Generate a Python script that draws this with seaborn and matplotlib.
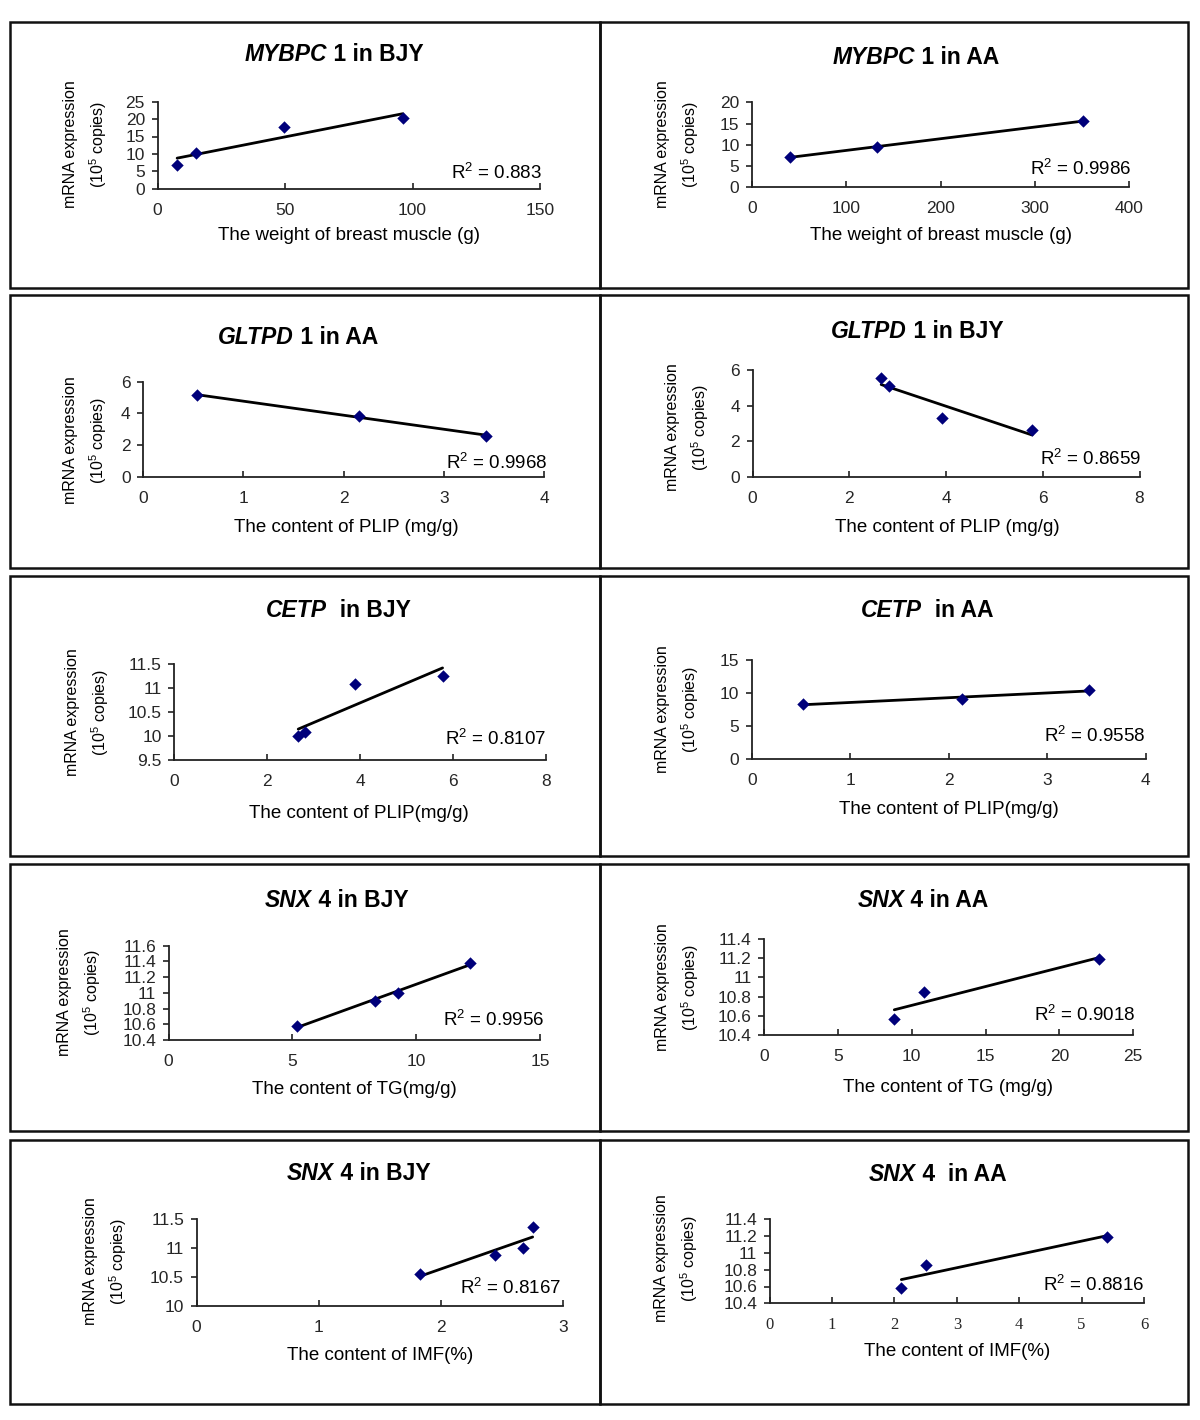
import numpy as np
import pandas as pd
import matplotlib
matplotlib.use("Agg")
import matplotlib.pyplot as plt
from matplotlib.patches import Rectangle
from matplotlib.ticker import FuncFormatter
import seaborn as sns

# ---------------- data ----------------
mybpc1_bjy_x = [7.7, 15.0, 49.7, 96.2]
mybpc1_bjy_y = [6.9, 10.3, 17.6, 20.2]
mybpc1_aa_x = [40.3, 133.0, 351.0]
mybpc1_aa_y = [7.1, 9.5, 15.6]
gltpd1_aa_x = [0.535, 2.15, 3.42]
gltpd1_aa_y = [5.14, 3.85, 2.57]
gltpd1_bjy_x = [2.66, 2.83, 3.91, 5.78]
gltpd1_bjy_y = [5.53, 5.12, 3.32, 2.63]
cetp_bjy_x = [2.67, 2.81, 3.89, 5.78]
cetp_bjy_y = [10.0, 10.08, 11.08, 11.26]
cetp_aa_x = [0.52, 2.14, 3.43]
cetp_aa_y = [8.31, 9.12, 10.44]
snx4_bjy_tg_x = [5.18, 8.32, 9.27, 12.16]
snx4_bjy_tg_y = [10.58, 10.90, 11.00, 11.38]
snx4_aa_tg_x = [8.82, 10.84, 22.67]
snx4_aa_tg_y = [10.57, 10.85, 11.19]
snx4_bjy_imf_x = [1.83, 2.44, 2.67, 2.75]
snx4_bjy_imf_y = [10.55, 10.88, 10.99, 11.37]
snx4_aa_imf_x = [2.11, 2.50, 5.40]
snx4_aa_imf_y = [10.58, 10.86, 11.19]

title_gene = ["MYBPC", "MYBPC", "GLTPD", "GLTPD", "CETP", "CETP", "SNX", "SNX", "SNX", "SNX"]
title_rest = [" 1 in BJY", " 1 in AA", " 1 in AA", " 1 in BJY", "  in BJY", "  in AA",
              " 4 in BJY", " 4 in AA", " 4 in BJY", " 4  in AA"]
x_labels = ["The weight of breast muscle (g)", "The weight of breast muscle (g)",
            "The content of PLIP (mg/g)", "The content of PLIP (mg/g)",
            "The content of PLIP(mg/g)", "The content of PLIP(mg/g)",
            "The content of TG(mg/g)", "The content of TG (mg/g)",
            "The content of IMF(%)", "The content of IMF(%)"]
r2_labels = ["0.883", "0.9986", "0.9968", "0.8659", "0.8107", "0.9558",
             "0.9956", "0.9018", "0.8167", "0.8816"]
x_limits = [(0, 150), (0, 400), (0, 4), (0, 8), (0, 8), (0, 4), (0, 15), (0, 25), (0, 3), (0, 6)]
x_steps = [50, 100, 1, 2, 2, 1, 5, 5, 1, 1]
y_limits = [(0, 25), (0, 20), (0, 6), (0, 6), (9.5, 11.5), (0, 15),
            (10.4, 11.6), (10.4, 11.4), (10, 11.5), (10.4, 11.4)]
y_steps = [5, 5, 2, 2, 0.5, 5, 0.2, 0.2, 0.5, 0.2]

xs_all = [mybpc1_bjy_x, mybpc1_aa_x, gltpd1_aa_x, gltpd1_bjy_x, cetp_bjy_x, cetp_aa_x,
          snx4_bjy_tg_x, snx4_aa_tg_x, snx4_bjy_imf_x, snx4_aa_imf_x]
ys_all = [mybpc1_bjy_y, mybpc1_aa_y, gltpd1_aa_y, gltpd1_bjy_y, cetp_bjy_y, cetp_aa_y,
          snx4_bjy_tg_y, snx4_aa_tg_y, snx4_bjy_imf_y, snx4_aa_imf_y]

# ---------------- layout (pixels) ----------------
W, H = 1200, 1420
# axes: x at xlim-min, x at xlim-max, y at ylim-min, y at ylim-max
axes_px = [(157.5, 540, 188.7, 101.7), (752, 1129, 187.3, 102.3),
           (143, 544, 476.7, 381.7), (752.5, 1139.5, 476.7, 370),
           (174.3, 545.6, 760, 664.3), (751.7, 1145.6, 758.7, 660),
           (168.6, 540.2, 1040, 945.7), (764, 1133.3, 1035, 939),
           (196.6, 563.2, 1305.7, 1219), (769.7, 1144, 1303.3, 1219.3)]
title_pos = [(334, 54), (916, 57), (298, 337), (917, 331), (338, 610), (927, 610),
             (337, 900), (923, 900), (359, 1173), (938, 1174)]
xlabel_pos = [(349, 236), (941, 235), (346, 527), (947, 528), (359, 813), (949, 810),
              (354, 1089), (948, 1087), (380, 1355), (957, 1352)]
ylabel_pos = [(86, 144), (678, 144), (86, 440), (688, 427), (88, 712), (678, 709),
              (80, 992), (678, 987), (106, 1261), (677, 1258)]
r2_pos = [(542, 173), (1131, 169), (548, 463), (1141, 459), (546, 739), (1146, 736),
          (544, 1020), (1136, 1015), (561, 1288), (1144, 1285)]
rows_px = [(22, 288), (295, 568), (576, 856), (864, 1131), (1140, 1404)]
cols_px = [(10, 600), (600, 1188)]

sns.set_theme(style="white")
plt.rcParams["font.family"] = ["Liberation Sans", "DejaVu Sans"]
plt.rcParams["mathtext.fontset"] = "custom"
plt.rcParams["mathtext.rm"] = "Liberation Sans"
plt.rcParams["mathtext.it"] = "Liberation Sans:italic"
plt.rcParams["mathtext.bf"] = "Liberation Sans:bold"

fig = plt.figure(figsize=(W / 100, H / 100), dpi=100)
fig.patch.set_facecolor("white")

def fx(x):
    return x / W

def fy(y):
    return 1 - y / H

# panel boxes
for (yt, yb) in rows_px:
    for (xl, xr) in cols_px:
        fig.add_artist(Rectangle((fx(xl), fy(yb)), (xr - xl) / W, (yb - yt) / H,
                                 transform=fig.transFigure, fill=False,
                                 edgecolor="#111111", linewidth=1.8, zorder=0))

fmt = FuncFormatter(lambda v, _: f"{v:g}")
titles = []
for i in range(10):
    x0, x1, yb, yt = axes_px[i]
    ax = fig.add_axes([fx(x0), fy(yb), (x1 - x0) / W, (yb - yt) / H])
    ax.set_facecolor("none")
    df = pd.DataFrame({"x": xs_all[i], "y": ys_all[i]})
    sns.regplot(data=df, x="x", y="y", ax=ax, ci=None, truncate=True, scatter=False,
                line_kws=dict(color="black", linewidth=2.0))
    sns.scatterplot(data=df, x="x", y="y", ax=ax, marker="D", color="#00007a",
                    s=40, linewidth=0, zorder=4, clip_on=False)
    ax.set_xlim(*x_limits[i])
    ax.set_ylim(*y_limits[i])
    ax.set_xticks(np.arange(x_limits[i][0], x_limits[i][1] + x_steps[i] / 2, x_steps[i]))
    ax.set_yticks(np.round(np.arange(y_limits[i][0], y_limits[i][1] + y_steps[i] / 2, y_steps[i]), 3))
    ax.xaxis.set_major_formatter(fmt)
    ax.yaxis.set_major_formatter(fmt)
    ax.set_xlabel("")
    ax.set_ylabel("")
    for s in ["top", "right"]:
        ax.spines[s].set_visible(False)
    for s in ["left", "bottom"]:
        ax.spines[s].set_color("#222222")
        ax.spines[s].set_linewidth(1.3)
    ax.tick_params(axis="x", direction="in", length=4, width=1.2, color="#222222",
                   pad=10, labelsize=12.5, bottom=True)
    ax.tick_params(axis="y", direction="out", length=4, width=1.2, color="#222222",
                   pad=5, labelsize=12.5, left=True)
    if i == 9:
        for lab in ax.get_xticklabels():
            lab.set_fontfamily(["Liberation Serif"])
            lab.set_fontsize(12)
    ax.grid(False)

    # axis texts
    cx, cy = xlabel_pos[i]
    fig.text(fx(cx), fy(cy), x_labels[i], ha="center", va="center", fontsize=13.5, color="black")
    cx, cy = ylabel_pos[i]
    fig.text(fx(cx), fy(cy), "mRNA expression\n(10$^5$ copies)", rotation=90,
             ha="center", va="center", multialignment="center", fontsize=11.5,
             linespacing=1.55, color="black")
    cx, cy = r2_pos[i]
    fig.text(fx(cx), fy(cy), "R$^2$ = " + r2_labels[i], ha="right", va="center",
             fontsize=13.5, color="black")

    cx, cy = title_pos[i]
    t1 = fig.text(0, fy(cy + 7), title_gene[i], fontsize=16.5, fontweight="bold",
                  fontstyle="italic", ha="left", va="baseline", color="black")
    t2 = fig.text(0, fy(cy + 7), title_rest[i], fontsize=16.5, fontweight="bold",
                  ha="left", va="baseline", color="black")
    titles.append((t1, t2, cx, cy))

fig.canvas.draw()
r = fig.canvas.get_renderer()
for t1, t2, cx, cy in titles:
    w1 = t1.get_window_extent(r).width
    w2 = t2.get_window_extent(r).width
    left = cx - (w1 + w2) / 2
    t1.set_x(fx(left))
    t2.set_x(fx(left + w1))

fig.savefig("out.png", dpi=100, facecolor="white")
